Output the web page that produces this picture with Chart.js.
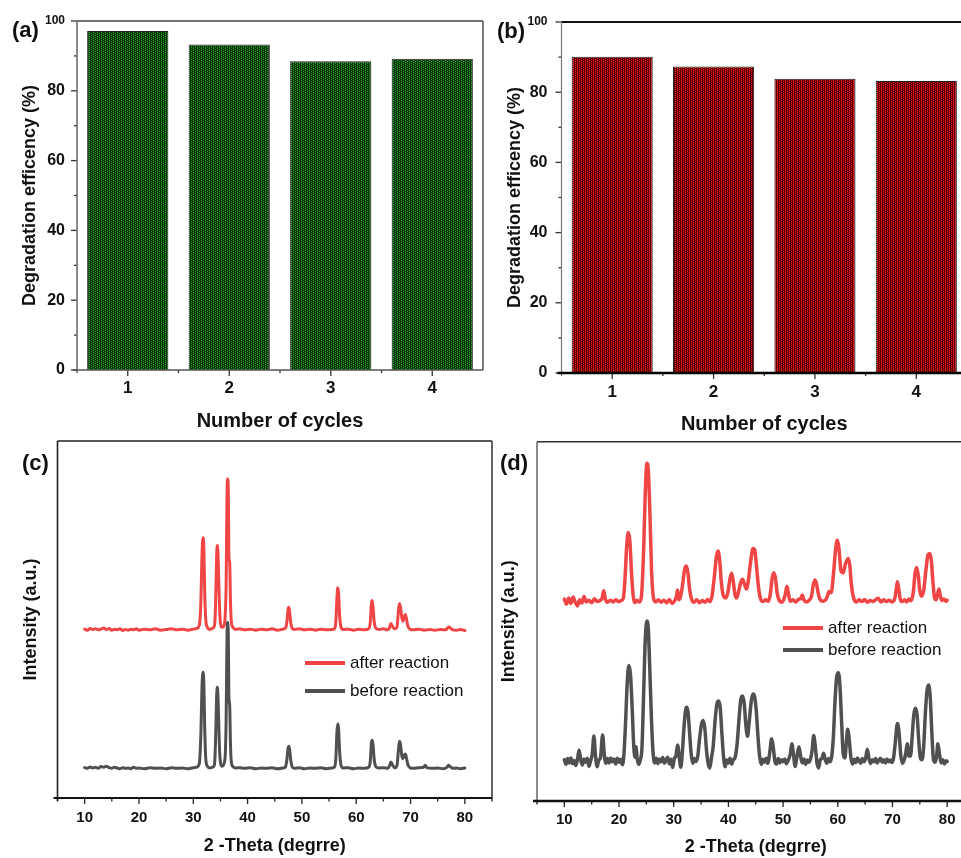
<!DOCTYPE html>
<html>
<head>
<meta charset="utf-8">
<script src="https://cdn.jsdelivr.net/npm/chart.js@4.4.1/dist/chart.umd.min.js"></script>
<style>
  html, body { margin: 0; padding: 0; background: #fff; overflow: hidden; width: 961px; height: 858px; }
  body { position: relative; font-family: "Liberation Sans", Arial, sans-serif; color: #111; }
  canvas { position: absolute; }
  .tag { position: absolute; font-weight: bold; font-size: 22px; line-height: 22px; }
  .leg { position: absolute; font-size: 17px; line-height: 20px; white-space: nowrap; }
  .leg i { display: inline-block; width: 40px; height: 4px; vertical-align: middle; margin-right: 5px; position: relative; top: -1px; }
</style>
</head>
<body>
<canvas id="chartA" width="485" height="440" style="left:0;top:0"></canvas>
<canvas id="chartB" width="490" height="440" style="left:480px;top:0"></canvas>
<canvas id="chartC" width="495" height="418" style="left:0;top:440px"></canvas>
<canvas id="chartD" width="500" height="418" style="left:480px;top:440px"></canvas>

<div class="tag" style="left:12px;top:19px">(a)</div>
<div class="tag" style="left:497px;top:20px">(b)</div>
<div class="tag" style="left:22px;top:452px">(c)</div>
<div class="tag" style="left:500px;top:452px">(d)</div>

<div class="leg" style="left:305px;top:653px"><i style="background:#f04545"></i>after reaction</div>
<div class="leg" style="left:305px;top:681px"><i style="background:#505050"></i>before reaction</div>
<div class="leg" style="left:783px;top:618px"><i style="background:#f04545"></i>after reaction</div>
<div class="leg" style="left:783px;top:640px"><i style="background:#505050"></i>before reaction</div>

<script>
// --- Data ---
const cycles = ['1', '2', '3', '4'];
const effA = [97.1, 93.3, 88.5, 89.2];
const effB = [90.1, 87.3, 83.8, 83.2];
const effTicks = [0, 10, 20, 30, 40, 50, 60, 70, 80, 90, 100];
const thetaTicks = [10, 20, 30, 40, 50, 60, 70, 80];
const thetaMinor = [5, 15, 25, 35, 45, 55, 65, 75, 85];

// (c) XRD, [2theta, intensity a.u.]
const xrdCAfter = [
  [10,47.3],[10.5,47.0],[11,47.5],[11.5,47.2],[12,47.4],[12.5,47.1],[13,47.3],[13.5,47.6],[14,47.2],[14.5,47.5],
  [15,47.0],[15.5,47.3],[16,47.1],[16.5,47.4],[17,46.9],[17.5,47.2],[18,47.0],[18.5,47.3],[19,47.1],[19.5,47.4],
  [20,47.0],[21,47.3],[22,47.1],[23,47.4],[24,47.0],[25,47.2],[26,47.4],[27,47.1],[28,47.3],[29,47.0],[30,47.3],
  [30.6,47.5],[31.1,48.3],[31.4,55],[31.6,68],[31.8,72.9],[31.95,70],[32.1,58],[32.3,50],[32.6,47.8],[33.0,47.2],
  [33.5,47.5],[33.9,48.2],[34.1,54],[34.3,68],[34.45,70.7],[34.6,66],[34.8,55],[35.0,49],[35.3,47.8],[35.7,48.5],
  [35.9,51.7],[36.05,60],[36.2,84],[36.3,89.4],[36.45,86],[36.55,67.9],[36.7,66],[36.85,55],[37.0,49.5],[37.3,47.8],
  [37.8,47.2],[38.5,47.4],[39.5,47.1],[40.5,47.3],[41.5,47.0],[42.5,47.3],[43.5,47.1],[44.5,47.4],[45.5,47.0],[46.5,47.3],
  [47.0,47.6],[47.25,49.5],[47.45,52.8],[47.6,53.4],[47.75,52],[47.95,49],[48.2,47.6],[48.6,47.2],[49.5,47.4],[50.5,47.1],
  [51.5,47.3],[52.5,47.0],[53.5,47.3],[54.5,47.1],[55.5,47.2],[56.0,47.4],[56.25,49.5],[56.45,56],[56.6,58.9],[56.75,57.5],
  [56.95,51],[57.2,47.8],[57.6,47.2],[58.5,47.3],[59.5,47.0],[60.5,47.3],[61.5,47.1],[62.3,47.4],[62.6,49.5],[62.8,54.5],
  [62.95,55.3],[63.1,53.5],[63.3,49.5],[63.6,47.6],[64.2,47.2],[65.0,47.4],[65.8,47.1],[66.1,47.6],[66.4,48.9],[66.7,48.0],
  [67.1,47.4],[67.5,47.8],[67.75,52],[67.95,54.5],[68.15,53.5],[68.4,50.5],[68.6,49.5],[68.85,50.8],[69.05,51.4],[69.25,50.2],
  [69.5,48.2],[69.9,47.3],[70.5,47.1],[71.5,47.3],[72.5,47.0],[73.5,47.2],[74.5,47.0],[75.5,47.2],[76.5,47.1],[76.8,47.6],
  [77.1,47.9],[77.4,47.5],[77.8,47.1],[78.5,47.0],[79.2,47.2],[80,46.9]
];
const xrdCBefore = [
  [10,8.5],[10.5,8.3],[11,8.7],[11.5,8.4],[12,8.6],[12.5,8.3],[13,8.8],[13.5,8.6],[14,8.9],[14.5,8.5],
  [15,8.3],[15.5,8.6],[16,8.4],[16.5,8.2],[17,8.5],[17.5,8.3],[18,8.4],[18.5,8.2],[19,8.6],[19.5,8.3],
  [20,8.4],[21,8.2],[22,8.5],[23,8.3],[24,8.4],[25,8.2],[26,8.5],[27,8.3],[28,8.4],[29,8.2],[30,8.5],
  [30.6,8.6],[31.1,9.6],[31.4,18],[31.6,31],[31.8,35.2],[31.95,32],[32.1,20],[32.3,11],[32.6,8.9],[33.0,8.4],
  [33.5,8.6],[33.9,9.3],[34.1,16],[34.3,28.5],[34.45,31.0],[34.6,26],[34.8,15],[35.0,10],[35.3,8.9],[35.7,9.8],
  [35.9,12.6],[36.05,22],[36.2,44],[36.3,49.2],[36.45,46],[36.55,28.8],[36.7,26],[36.85,15],[37.0,10.2],[37.3,8.8],
  [37.8,8.4],[38.5,8.5],[39.5,8.3],[40.5,8.5],[41.5,8.2],[42.5,8.4],[43.5,8.3],[44.5,8.5],[45.5,8.2],[46.5,8.4],
  [47.0,8.8],[47.25,11],[47.45,14],[47.6,14.5],[47.75,13.5],[47.95,10.5],[48.2,8.8],[48.6,8.3],[49.5,8.5],[50.5,8.2],
  [51.5,8.4],[52.5,8.3],[53.5,8.5],[54.5,8.2],[55.5,8.4],[56.0,8.7],[56.25,11],[56.45,18.5],[56.6,20.7],[56.75,19.5],
  [56.95,13],[57.2,9.2],[57.6,8.4],[58.5,8.5],[59.5,8.2],[60.5,8.4],[61.5,8.3],[62.3,8.6],[62.6,10.5],[62.8,15.5],
  [62.95,16.2],[63.1,15],[63.3,11],[63.6,8.8],[64.2,8.4],[65.0,8.5],[65.8,8.3],[66.1,8.9],[66.4,10.1],[66.7,9.2],
  [67.1,8.5],[67.5,9.0],[67.75,13],[67.95,15.9],[68.15,15],[68.4,11.8],[68.6,11],[68.85,12],[69.05,12.3],[69.25,11.2],
  [69.5,9.4],[69.9,8.5],[70.5,8.3],[71.5,8.5],[72.4,8.6],[72.7,9.2],[73.0,8.5],[74,8.3],[75,8.4],[76,8.2],
  [76.7,8.6],[77.0,9.2],[77.3,8.8],[77.8,8.3],[78.5,8.4],[79.2,8.2],[80,8.4]
];

// (d) XRD, [2theta, intensity a.u.]
const xrdDAfter = [
  [10,56.2],[10.4,54.8],[10.8,56.5],[11.2,55.0],[11.6,56.8],[12.0,55.3],[12.4,54.3],[12.8,56.0],[13.2,55.1],[13.6,56.9],
  [14.0,55.4],[14.5,55.9],[15.0,55.2],[15.5,56.3],[16.0,55.5],[16.5,55.8],[16.9,56.4],[17.2,58.5],[17.5,56.2],[17.9,55.3],
  [18.4,55.9],[18.9,55.4],[19.4,56.0],[19.9,55.5],[20.4,55.8],[20.8,56.5],[21.1,62],[21.4,71],[21.7,74.7],[22.0,72],
  [22.3,63],[22.6,57],[22.9,55.2],[23.3,55.9],[23.7,55.4],[24.1,57],[24.5,70],[24.8,86],[25.1,94.0],[25.35,92],
  [25.65,80],[25.95,64],[26.3,56.5],[26.7,55.4],[27.2,56.0],[27.7,55.3],[28.2,55.9],[28.7,55.2],[29.2,56.1],[29.7,55.0],
  [30.2,55.8],[30.5,57],[30.7,58.7],[30.9,56],[31.2,56.6],[31.6,60],[32.0,64.5],[32.3,65.4],[32.6,63.5],[32.9,59],
  [33.3,56],[33.7,55.3],[34.2,56.0],[34.7,55.2],[35.2,55.8],[35.7,55.3],[36.2,56.1],[36.6,55.5],[37.0,57],[37.4,62],
  [37.8,68],[38.1,69.6],[38.4,67],[38.7,61],[39.1,57],[39.5,56.5],[39.9,58],[40.3,62],[40.6,63.4],[40.9,61],
  [41.2,57.5],[41.5,56.5],[41.9,58.5],[42.3,61],[42.6,61.7],[42.9,60.5],[43.3,59],[43.7,62],[44.1,67],[44.5,70.3],
  [44.8,70],[45.1,66],[45.5,59.5],[45.9,56.2],[46.3,55.5],[46.8,56],[47.3,55.6],[47.7,58],[48.0,62],[48.3,63.5],
  [48.6,62],[48.9,58],[49.3,55.8],[49.7,55.3],[50.1,56.0],[50.4,57.5],[50.7,59.8],[51.0,57.5],[51.3,55.6],[51.8,56.0],
  [52.3,55.4],[52.8,56.1],[53.2,56.3],[53.5,57.3],[53.8,56.0],[54.3,55.4],[54.8,56.0],[55.2,57],[55.5,60],[55.8,61.5],
  [56.1,60.5],[56.4,58],[56.8,56],[57.3,55.6],[57.8,56.0],[58.1,57],[58.4,58.3],[58.8,58],[59.2,63],[59.6,70],
  [59.9,72.6],[60.2,70.5],[60.6,64],[61.0,63.5],[61.4,66],[61.9,67.5],[62.2,65.5],[62.5,60],[62.9,56.5],[63.4,55.4],
  [63.9,56.0],[64.4,55.5],[64.9,56.1],[65.4,55.3],[65.9,55.8],[66.4,55.5],[66.9,56.0],[67.4,56.4],[67.9,55.4],[68.4,56.0],
  [68.9,55.5],[69.4,55.9],[69.9,55.4],[70.4,56.2],[70.7,59],[70.9,61.0],[71.1,59.5],[71.4,56.3],[71.8,55.5],[72.2,56.0],
  [72.6,55.4],[73.0,56.2],[73.4,55.7],[73.8,58],[74.1,63],[74.4,65.0],[74.7,63],[75.0,58.5],[75.3,57],[75.7,58.5],
  [76.1,64],[76.5,68.5],[76.8,68.9],[77.1,67],[77.4,61],[77.7,56.5],[78.0,56.0],[78.3,58],[78.5,59.0],[78.7,57.5],
  [79.0,55.8],[79.4,56.2],[79.8,55.6],[80,55.9]
];
const xrdDBefore = [
  [10,11.5],[10.3,10.2],[10.6,11.8],[10.9,10.6],[11.2,12.0],[11.5,10.4],[11.8,11.3],[12.1,9.9],[12.4,11.6],[12.7,14.2],
  [13.0,11.4],[13.3,10.0],[13.6,11.7],[13.9,10.8],[14.2,11.9],[14.5,9.6],[14.8,11.2],[15.1,13],[15.4,18.1],[15.7,12.5],
  [16.0,9.5],[16.3,11.4],[16.6,12],[17.0,18.4],[17.3,13],[17.6,10.5],[17.9,11.8],[18.2,10.6],[18.5,12.0],[18.8,10.9],
  [19.1,11.7],[19.4,10.3],[19.7,11.9],[20.0,10.8],[20.3,11.6],[20.6,10.1],[20.9,13],[21.2,22],[21.5,33],[21.8,37.7],
  [22.1,35],[22.4,26],[22.7,15],[22.95,12.2],[23.1,15.1],[23.3,12],[23.6,10.2],[23.9,11.5],[24.2,15],[24.5,30],
  [24.8,45],[25.1,50.1],[25.35,48],[25.6,38],[25.9,24],[26.2,14],[26.5,10.6],[26.8,11.9],[27.1,10.4],[27.4,11.7],
  [27.7,10.9],[28.0,12.1],[28.3,10.5],[28.6,11.4],[28.9,12.2],[29.2,10.3],[29.5,11.6],[29.8,9.3],[30.1,11.8],[30.4,12.5],
  [30.7,15.6],[31.0,12.4],[31.3,9.4],[31.6,14],[31.9,21],[32.3,26.1],[32.6,25],[32.9,19],[33.2,13],[33.5,10.5],
  [33.8,11.8],[34.1,11.0],[34.4,12.5],[34.7,17],[35.1,21.5],[35.4,22.4],[35.7,20],[36.0,14],[36.3,10.4],[36.6,9.2],
  [36.9,12],[37.2,15],[37.6,23],[37.9,27],[38.2,27.8],[38.5,26],[38.8,19],[39.1,12.5],[39.4,9.5],[39.7,11.4],
  [40.0,10.6],[40.3,11.9],[40.6,10.3],[40.9,11.5],[41.2,12],[41.6,16],[42.0,24],[42.3,28.5],[42.6,29.2],[42.9,27],
  [43.2,21],[43.5,18],[43.8,22],[44.2,28],[44.5,29.8],[44.8,29],[45.1,25],[45.4,18],[45.7,12.5],[46.0,10.2],
  [46.3,11.6],[46.6,10.8],[46.9,11.9],[47.2,10.5],[47.6,14],[47.9,17.3],[48.2,15],[48.5,11],[48.8,10.3],[49.1,11.8],
  [49.4,10.6],[49.7,11.5],[50.0,10.9],[50.3,11.7],[50.6,10.4],[50.9,11.2],[51.3,13],[51.6,15.9],[51.9,13],[52.2,9.6],
  [52.5,12],[52.9,15.1],[53.2,12.5],[53.5,10.6],[53.8,11.7],[54.1,10.2],[54.4,11.4],[54.7,10.8],[55.0,11.6],[55.3,14],
  [55.6,18.2],[55.9,15],[56.2,10.5],[56.5,9.2],[56.8,11.5],[57.1,11.8],[57.4,13.3],[57.7,11.6],[58.0,10.5],[58.3,11.8],
  [58.6,10.9],[58.9,12.5],[59.2,18],[59.5,28],[59.8,34.5],[60.1,35.7],[60.4,32],[60.7,22],[61.0,13],[61.3,12],
  [61.6,17],[61.8,20.0],[62.1,17],[62.4,12],[62.7,10.3],[63.0,11.6],[63.3,10.7],[63.6,12.0],[63.9,11.1],[64.2,10.5],
  [64.5,11.8],[64.8,10.9],[65.1,12.0],[65.4,14.4],[65.7,11.8],[66.0,10.4],[66.3,11.5],[66.6,10.9],[66.9,11.8],[67.2,10.6],
  [67.5,11.3],[67.8,11.9],[68.1,10.8],[68.4,11.5],[68.7,10.6],[69.0,11.7],[69.3,10.9],[69.6,11.4],[69.9,10.7],[70.2,12],
  [70.5,16],[70.9,21.6],[71.2,19],[71.5,13],[71.8,10.5],[72.1,11.2],[72.4,13],[72.7,15.9],[73.0,12.5],[73.3,12.5],
  [73.6,18],[73.9,24],[74.2,25.8],[74.5,24],[74.8,17],[75.1,12],[75.4,11.5],[75.7,15],[76.0,24],[76.3,30.5],
  [76.6,32.3],[76.9,29],[77.2,19],[77.5,11.5],[77.8,10.8],[78.1,13],[78.3,15.9],[78.6,13],[78.9,10.6],[79.2,11.5],
  [79.5,10.3],[79.8,11.2],[80,11.0]
];

Chart.defaults.font.family = '"Liberation Sans", Arial, sans-serif';
Chart.defaults.color = '#111';

// frame + tick marks drawn against the chart's own scales
const axesDeco = {
  id: 'axesDeco',
  afterDatasetsDraw(chart, args, o) {
    const { ctx, chartArea: a, scales: { x, y } } = chart;
    const line = (x1, y1, x2, y2, c, w) => {
      ctx.strokeStyle = c; ctx.lineWidth = w;
      ctx.beginPath(); ctx.moveTo(x1, y1); ctx.lineTo(x2, y2); ctx.stroke();
    };
    ctx.save();
    (o.xTicks || []).forEach(([v, len]) => {
      const px = x.getPixelForValue(v);
      line(px, a.bottom, px, a.bottom + len, o.tickColor, 1.3);
    });
    (o.yTicks || []).forEach(([v, len]) => {
      const py = y.getPixelForValue(v);
      line(a.left, py, a.left - len, py, o.tickColor, 1.3);
    });
    line(a.left, a.top, a.right, a.top, ...o.top);
    line(a.right, a.top, a.right, a.bottom, ...o.right);
    line(a.left, a.top, a.left, a.bottom + 3, ...o.left);
    line(a.left - 4, a.bottom, a.right, a.bottom, ...o.bottom);
    ctx.restore();
  }
};

// bar fill: dark base with thin bright stripes, like the original hatch
function texture(base, dot, dim) {
  const c = document.createElement('canvas');
  c.width = 4; c.height = 4;
  const g = c.getContext('2d');
  g.fillStyle = base; g.fillRect(0, 0, 4, 4);
  g.fillStyle = dot;
  g.fillRect(1, 0, 1, 1); g.fillRect(1, 2, 1, 1); g.fillRect(3, 1, 1, 1); g.fillRect(3, 3, 1, 1);
  g.fillStyle = dim;
  g.fillRect(1, 1, 1, 1); g.fillRect(1, 3, 1, 1);
  return g.createPattern(c, 'repeat');
}

function barChart(id, values, fill, cfg) {
  const catTicks = [];
  cycles.forEach((c, i) => { catTicks.push([i, 6]); if (i < cycles.length - 1) catTicks.push([i + 0.5, 3]); });
  return new Chart(document.getElementById(id), {
    type: 'bar',
    data: {
      labels: cycles,
      datasets: [{ data: values, backgroundColor: fill, borderColor: '#222', borderWidth: 1,
                   barPercentage: 0.8, categoryPercentage: 1 }]
    },
    options: {
      responsive: false, animation: false, devicePixelRatio: 1,
      layout: { padding: { top: cfg.padTop, right: cfg.padRight, left: 0, bottom: 0 } },
      plugins: {
        legend: { display: false }, tooltip: { enabled: false },
        axesDeco: {
          tickColor: '#333', xTicks: catTicks, yTicks: effTicks.map(v => [v, v % 20 === 0 ? 6 : 3]),
          top: cfg.frame.top, right: cfg.frame.right, left: cfg.frame.left, bottom: cfg.frame.bottom
        }
      },
      scales: {
        x: {
          grid: { display: false, drawTicks: false }, border: { display: false },
          ticks: { padding: cfg.xTickPad, color: '#111', font: { size: 17, weight: 'bold' } },
          title: { display: true, text: 'Number of cycles', color: '#111',
                   font: { size: 20, weight: 'bold' }, padding: { top: 0, bottom: cfg.xTitlePad } },
          afterFit: s => { s.height = cfg.xHeight; }
        },
        y: {
          min: 0, max: 100,
          grid: { display: false, drawTicks: false }, border: { display: false },
          ticks: { stepSize: 20, padding: cfg.yTickPad, color: '#111',
                   font: c => ({ size: c.tick && c.tick.value === 100 ? 12 : 16, weight: 'bold' }) },
          title: { display: true, text: 'Degradation efficency (%)', color: '#111',
                   font: { size: 18, weight: 'bold' }, padding: { top: cfg.yTitlePad, bottom: 0 } },
          afterFit: s => { s.width = cfg.yWidth; }
        }
      }
    },
    plugins: [axesDeco]
  });
}

function xrdChart(id, after, before, cfg) {
  const pts = arr => arr.map(([x, y]) => ({ x, y }));
  const xTicks = thetaTicks.map(v => [v, 6]).concat(thetaMinor.map(v => [v, 3.5]));
  const line = { pointRadius: 0, cubicInterpolationMode: 'monotone', borderWidth: cfg.lw,
                 borderJoinStyle: 'round', borderCapStyle: 'round', fill: false };
  return new Chart(document.getElementById(id), {
    type: 'line',
    data: {
      datasets: [
        Object.assign({ label: 'before reaction', data: pts(before), borderColor: '#505050' }, line),
        Object.assign({ label: 'after reaction', data: pts(after), borderColor: '#f04545' }, line)
      ]
    },
    options: {
      responsive: false, animation: false, devicePixelRatio: 1,
      layout: { padding: { top: cfg.padTop, right: cfg.padRight, left: 0, bottom: 0 } },
      plugins: {
        legend: { display: false }, tooltip: { enabled: false },
        axesDeco: { tickColor: '#222', xTicks, top: cfg.frame.top, right: cfg.frame.right,
                    left: cfg.frame.left, bottom: cfg.frame.bottom }
      },
      scales: {
        x: {
          type: 'linear', min: 5, max: 85,
          afterBuildTicks: s => { s.ticks = thetaTicks.map(v => ({ value: v })); },
          grid: { display: false, drawTicks: false }, border: { display: false },
          ticks: { padding: cfg.xTickPad, color: '#111', font: { size: 15, weight: 'bold' } },
          title: { display: true, text: '2 -Theta (degrre)', color: '#111',
                   font: { size: 18, weight: 'bold' }, padding: { top: 0, bottom: cfg.xTitlePad } },
          afterFit: s => { s.height = cfg.xHeight; }
        },
        y: {
          min: 0, max: 100,
          grid: { display: false, drawTicks: false }, border: { display: false },
          ticks: { display: false },
          title: { display: true, text: 'Intensity (a.u.)', color: '#111',
                   font: { size: 18, weight: 'bold' }, padding: { top: cfg.yTitlePad, bottom: 0 } },
          afterFit: s => { s.width = cfg.yWidth; }
        }
      }
    },
    plugins: [axesDeco]
  });
}

barChart('chartA', effA, texture('#073307', '#22a022', '#0e520e'), {
  padTop: 21, padRight: 2, yWidth: 77, xHeight: 70, yTickPad: 12, xTickPad: 8.5, yTitlePad: 19, xTitlePad: 7,
  frame: { top: ['#444', 1.6], right: ['#444', 1.4], left: ['#666', 1.5], bottom: ['#555', 1.6] }
});
barChart('chartB', effB, texture('#5a0000', '#ff2020', '#a00808'), {
  padTop: 22, padRight: 3, yWidth: 81.5, xHeight: 67, yTickPad: 14, xTickPad: 9.5, yTitlePad: 24, xTitlePad: 4,
  frame: { top: ['#111', 2], right: ['#111', 2], left: ['#777', 1.2], bottom: ['#000', 2.6] }
});
xrdChart('chartC', xrdCAfter, xrdCBefore, {
  lw: 3, padTop: 1, padRight: 3, yWidth: 57.5, xHeight: 60, xTickPad: 10.5, yTitlePad: 20, xTitlePad: 1,
  frame: { top: ['#222', 1.5], right: ['#333', 1.5], left: ['#222', 1.6], bottom: ['#111', 2] }
});
xrdChart('chartD', xrdDAfter, xrdDBefore, {
  lw: 3.5, padTop: 1.7, padRight: 5.5, yWidth: 57, xHeight: 57, xTickPad: 10, yTitlePad: 18, xTitlePad: 0,
  frame: { top: ['#333', 1.5], right: ['#333', 1.5], left: ['#666', 1.5], bottom: ['#111', 2.6] }
});
</script>
</body>
</html>
